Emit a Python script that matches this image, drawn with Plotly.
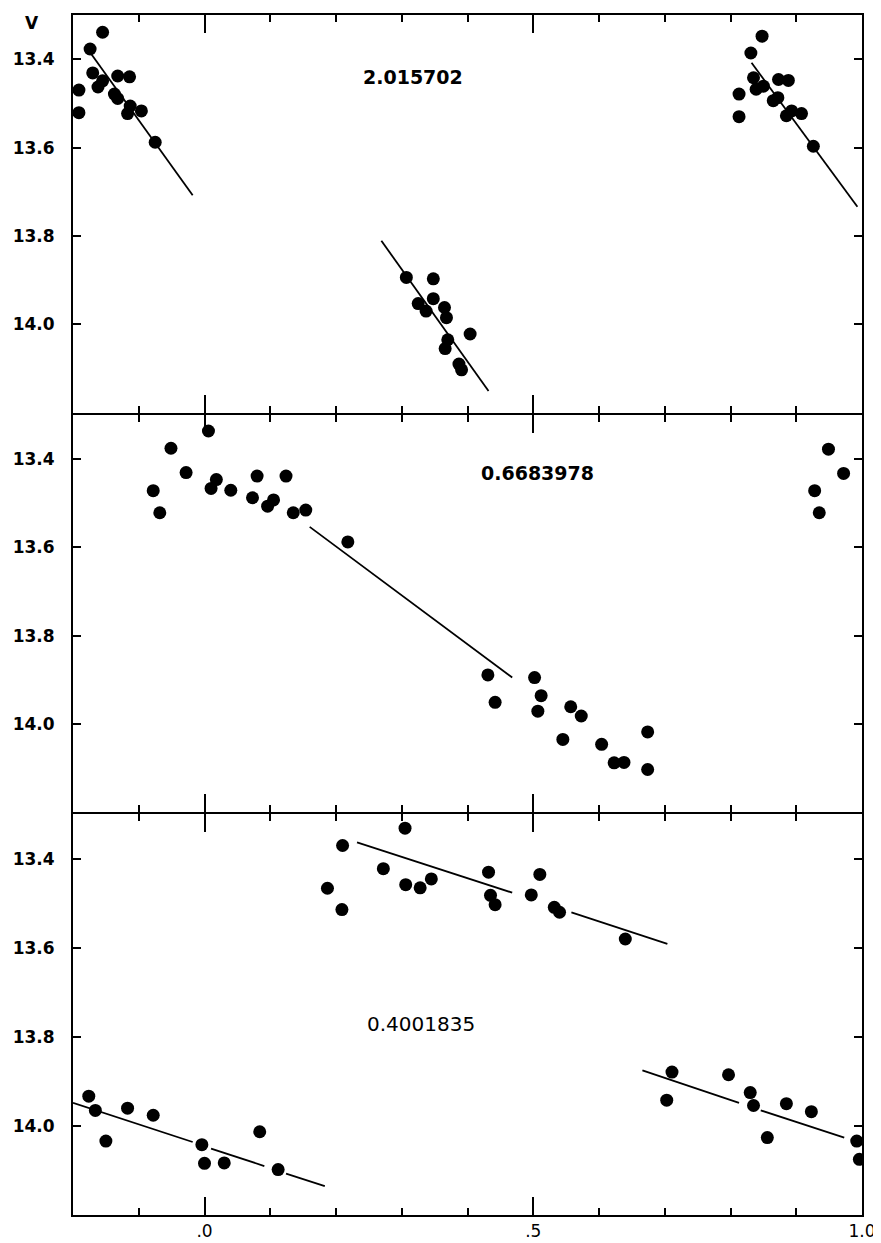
import plotly.graph_objects as go

# ---------------- data (phase, V magnitude) ----------------
# Panel 1: period 2.015702
p1_phase = [-0.191, -0.191, -0.174, -0.155, -0.170, -0.162, -0.155, -0.132, -0.114,
            -0.137, -0.132, -0.117, -0.113, -0.096, -0.075,
            0.307, 0.348, 0.348, 0.325, 0.337, 0.365, 0.368, 0.404, 0.370, 0.366,
            0.387, 0.391,
            0.813, 0.813, 0.831, 0.848, 0.835, 0.839, 0.850, 0.873, 0.888, 0.865,
            0.872, 0.885, 0.893, 0.908, 0.926]
p1_mag = [13.470, 13.521, 13.377, 13.339, 13.431, 13.463, 13.449, 13.438, 13.440,
          13.479, 13.489, 13.523, 13.506, 13.517, 13.588,
          13.894, 13.897, 13.942, 13.953, 13.970, 13.962, 13.985, 14.022, 14.035, 14.055,
          14.090, 14.103,
          13.479, 13.530, 13.386, 13.348, 13.442, 13.468, 13.461, 13.446, 13.448, 13.494,
          13.487, 13.528, 13.517, 13.523, 13.597]
p1_fit_x = [-0.172, -0.018, None, 0.269, 0.432, None, 0.832, 0.993]
p1_fit_y = [13.389, 13.708, None, 13.811, 14.151, None, 13.408, 13.734]

# Panel 2: period 0.6683978
p2_phase = [-0.078, -0.068, -0.051, -0.028, 0.006, 0.018, 0.010, 0.040, 0.073, 0.080,
            0.096, 0.105, 0.124, 0.135, 0.154, 0.218,
            0.431, 0.442, 0.502, 0.512, 0.507, 0.557, 0.573, 0.545, 0.604, 0.623,
            0.638, 0.674, 0.674,
            0.949, 0.972, 0.928, 0.935]
p2_mag = [13.472, 13.522, 13.376, 13.431, 13.337, 13.447, 13.467, 13.471, 13.488, 13.439,
          13.507, 13.493, 13.439, 13.522, 13.516, 13.588,
          13.889, 13.951, 13.895, 13.936, 13.971, 13.961, 13.982, 14.035, 14.046, 14.088,
          14.087, 14.018, 14.103,
          13.378, 13.433, 13.472, 13.522]
p2_fit_x = [0.160, 0.468]
p2_fit_y = [13.554, 13.895]

# Panel 3: period 0.4001835
p3_phase = [0.187, 0.210, 0.209, 0.272, 0.305, 0.306, 0.328, 0.345,
            0.432, 0.510, 0.435, 0.442, 0.497, 0.532, 0.540, 0.640,
            -0.176, -0.166, -0.150, -0.117, -0.078, -0.004, 0.000, 0.030, 0.084, 0.112,
            0.711, 0.703, 0.797, 0.830, 0.835, 0.856, 0.885, 0.923, 0.992, 0.996]
p3_mag = [13.466, 13.370, 13.514, 13.422, 13.331, 13.458, 13.465, 13.445,
          13.430, 13.435, 13.482, 13.503, 13.481, 13.509, 13.520, 13.580,
          13.933, 13.965, 14.034, 13.960, 13.976, 14.042, 14.084, 14.083, 14.013, 14.098,
          13.879, 13.942, 13.885, 13.925, 13.954, 14.026, 13.950, 13.968, 14.034, 14.075]
p3_fit_x = [0.232, 0.468, None, 0.558, 0.704, None,
            -0.200, -0.018, None, 0.010, 0.091, None, 0.124, 0.183, None,
            0.666, 0.813, None, 0.846, 0.973]
p3_fit_y = [13.363, 13.476, None, 13.520, 13.591, None,
            13.948, 14.036, None, 14.051, 14.090, None, 14.107, 14.135, None,
            13.875, 13.948, None, 13.965, 14.026]

periods = ["2.015702", "0.6683978", "0.4001835"]
period_pos_x = [0.317, 0.507, 0.330]
period_pos_y = [13.44, 13.432, 13.772]
period_bold = [True, True, False]
period_size = [19, 19, 20]

y_ticks = [13.4, 13.6, 13.8, 14.0]
y_ticktext = ["13.4", "13.6", "13.8", "14.0"]
x_ticks = [0.0, 0.5, 1.0]
x_ticktext = [".0", ".5", "1.0"]

X_RANGE = [-0.2, 1.0]
Y_RANGE = [14.2, 13.3]

# ---------------- layout geometry ----------------
# the page body has an 8px default margin, so the figure is drawn 8px smaller
BODY = 8
W, H = 881 - BODY, 1243 - BODY
M_L, M_R, M_T, M_B = 73 - BODY, 19, 15 - BODY, 1243 - 1215
PH = H - M_T - M_B                    # plot height in px
G = 1.0 / PH                          # half gap so shared border lines coincide
b1 = (1215 - 413) / (1215 - 14)       # panel boundaries (paper fraction)
b2 = (1215 - 813) / (1215 - 14)
domains = [[b1 + G, 1.0], [b2 + G, b1 - G], [0.0, b2 - G]]

fig = go.Figure()

panels = [(p1_phase, p1_mag, p1_fit_x, p1_fit_y),
          (p2_phase, p2_mag, p2_fit_x, p2_fit_y),
          (p3_phase, p3_mag, p3_fit_x, p3_fit_y)]

axis_font = dict(family="DejaVu Sans", size=17, color="black", weight="bold")
xlab_font = dict(family="DejaVu Sans", size=17, color="black")

for i, (px, py, fx, fy) in enumerate(panels, start=1):
    xa = "x" if i == 1 else "x%d" % i
    ya = "y" if i == 1 else "y%d" % i
    fig.add_trace(go.Scatter(x=fx, y=fy, mode="lines", xaxis=xa, yaxis=ya,
                             line=dict(color="black", width=1.8),
                             connectgaps=False, showlegend=False, hoverinfo="skip"))
    fig.add_trace(go.Scatter(x=px, y=py, mode="markers", xaxis=xa, yaxis=ya,
                             marker=dict(color="black", size=13, line=dict(width=0)),
                             showlegend=False))

    fig.layout["xaxis" if i == 1 else "xaxis%d" % i] = dict(
        domain=[0, 1], anchor=ya, range=X_RANGE, showline=True, linecolor="black",
        linewidth=2, mirror="ticks", ticks="inside", ticklen=18, tickwidth=2,
        tickcolor="black", tickvals=x_ticks, ticktext=x_ticktext,
        minor=dict(tickmode="linear", tick0=0, dtick=0.1, ticks="inside",
                   ticklen=7, tickwidth=2, tickcolor="black"),
        showgrid=False, zeroline=False, tickfont=xlab_font, ticklabelstandoff=0,
        showticklabels=(i == 3), automargin=False,
        matches=None if i == 1 else "x")
    fig.layout["yaxis" if i == 1 else "yaxis%d" % i] = dict(
        domain=domains[i - 1], anchor=xa, range=Y_RANGE, showline=True,
        linecolor="black", linewidth=2, mirror="ticks", ticks="inside", ticklen=8,
        tickwidth=2, tickcolor="black", tickvals=y_ticks, ticktext=y_ticktext,
        showgrid=False, zeroline=False, tickfont=axis_font, ticklabelstandoff=13,
        automargin=False)
    # longer tick mark at 14.0 on both sides of the panel (overlay axis)
    fig.layout["yaxis%d" % (3 + i)] = dict(
        overlaying=ya, anchor=xa, range=Y_RANGE, tickvals=[14.0],
        ticks="inside", ticklen=17, tickwidth=2, tickcolor="black",
        mirror="ticks", showline=False, showticklabels=False,
        showgrid=False, zeroline=False, automargin=False)

for i in range(3):
    xr = "x" if i == 0 else "x%d" % (i + 1)
    yr = "y" if i == 0 else "y%d" % (i + 1)
    f = dict(family="DejaVu Sans", size=period_size[i], color="black")
    if period_bold[i]:
        f["weight"] = "bold"
    fig.add_annotation(x=period_pos_x[i], y=period_pos_y[i], xref=xr, yref=yr,
                       text=periods[i], showarrow=False, font=f,
                       xanchor="center", yanchor="middle")

fig.add_annotation(x=(32 - 73) / (862 - 73), y=1 + (15 - 23) / PH,
                   xref="paper", yref="paper", text="V", showarrow=False,
                   xanchor="center", yanchor="middle",
                   font=dict(family="DejaVu Sans", size=17, color="black", weight="bold"))

fig.update_layout(width=W, height=H,
                  margin=dict(l=M_L, r=M_R, t=M_T, b=M_B, autoexpand=False),
                  paper_bgcolor="white", plot_bgcolor="white",
                  showlegend=False)

fig.write_html("out.html")
